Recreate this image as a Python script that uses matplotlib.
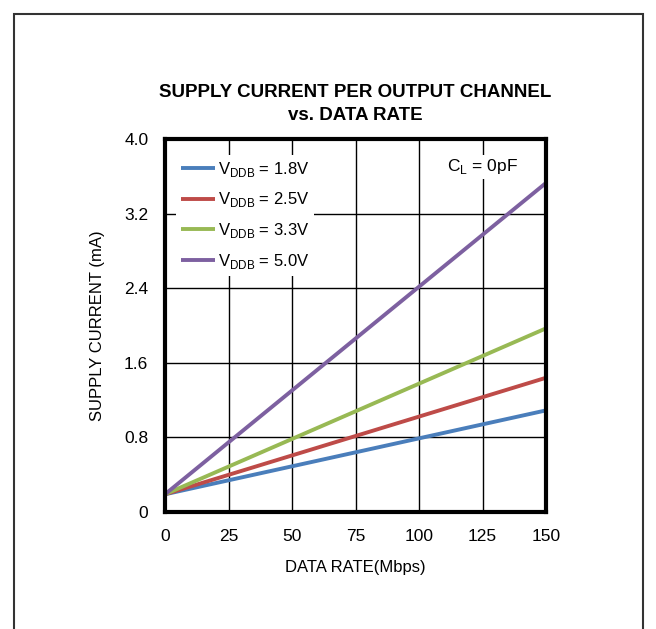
import matplotlib
matplotlib.use("Agg")
import matplotlib.pyplot as plt
from matplotlib.patches import Rectangle

# supply current vs data rate, one line per VDDB supply
data_rate = [0, 150]
i_18 = [0.19, 1.09]
i_25 = [0.19, 1.44]
i_33 = [0.19, 1.97]
i_50 = [0.19, 3.53]
labels = ["1.8V", "2.5V", "3.3V", "5.0V"]
colors = ["#4a7ebb", "#be4b48", "#98b954", "#7d60a0"]

xticks = [0, 25, 50, 75, 100, 125, 150]
yticks = [0, 0.8, 1.6, 2.4, 3.2, 4.0]
ytick_labels = ["0", "0.8", "1.6", "2.4", "3.2", "4.0"]

plt.rcParams["font.family"] = ["Liberation Sans", "DejaVu Sans"]
plt.rcParams["mathtext.fontset"] = "custom"
plt.rcParams["mathtext.rm"] = "Liberation Sans"

fig = plt.figure(figsize=(6.56, 6.29), dpi=100)
ax = fig.add_axes([0.2515, 0.186, 0.581, 0.593])

for y, lab, c in zip([i_18, i_25, i_33, i_50], labels, colors):
    ax.plot(data_rate, y, color=c, lw=2.8, label=r"V$_{\mathrm{DDB}}$ = " + lab,
            solid_capstyle="butt")

ax.set_xlim(0, 150)
ax.set_ylim(0, 4.0)
ax.set_xticks(xticks)
ax.set_yticks(yticks)
ax.set_yticklabels(ytick_labels)
ax.tick_params(length=0, labelsize=12.5, pad=12)
ax.grid(True, color="black", lw=1.0)
for s in ax.spines.values():
    s.set_linewidth(3)

ax.set_xlabel("DATA RATE(Mbps)", fontsize=12, labelpad=12)
ax.set_ylabel("SUPPLY CURRENT (mA)", fontsize=12, labelpad=14)
ax.set_title("SUPPLY CURRENT PER OUTPUT CHANNEL\nvs. DATA RATE",
             fontsize=13.5, fontweight="bold", linespacing=1.45, pad=14)

leg = ax.legend(loc="upper left", fontsize=12, frameon=True, fancybox=False,
                handlelength=2.0, handletextpad=0.2, labelspacing=0.7,
                borderpad=0.3, borderaxespad=0.0, bbox_to_anchor=(0.03, 0.958))
leg.get_frame().set_edgecolor("none")
leg.get_frame().set_facecolor("white")
leg.get_frame().set_alpha(1)

ax.text(0.832, 0.925, r"C$_{\mathrm{L}}$ = 0pF", transform=ax.transAxes, fontsize=12.5,
        ha="center", va="center", bbox=dict(facecolor="white", edgecolor="none", pad=2),
        zorder=5)

fig.patches.append(Rectangle((14 / 656, -0.1), 629 / 656, 1.1 - 14 / 629, transform=fig.transFigure,
                             fill=False, edgecolor="#333333", lw=1.5))

fig.savefig("out.png", dpi=100)
